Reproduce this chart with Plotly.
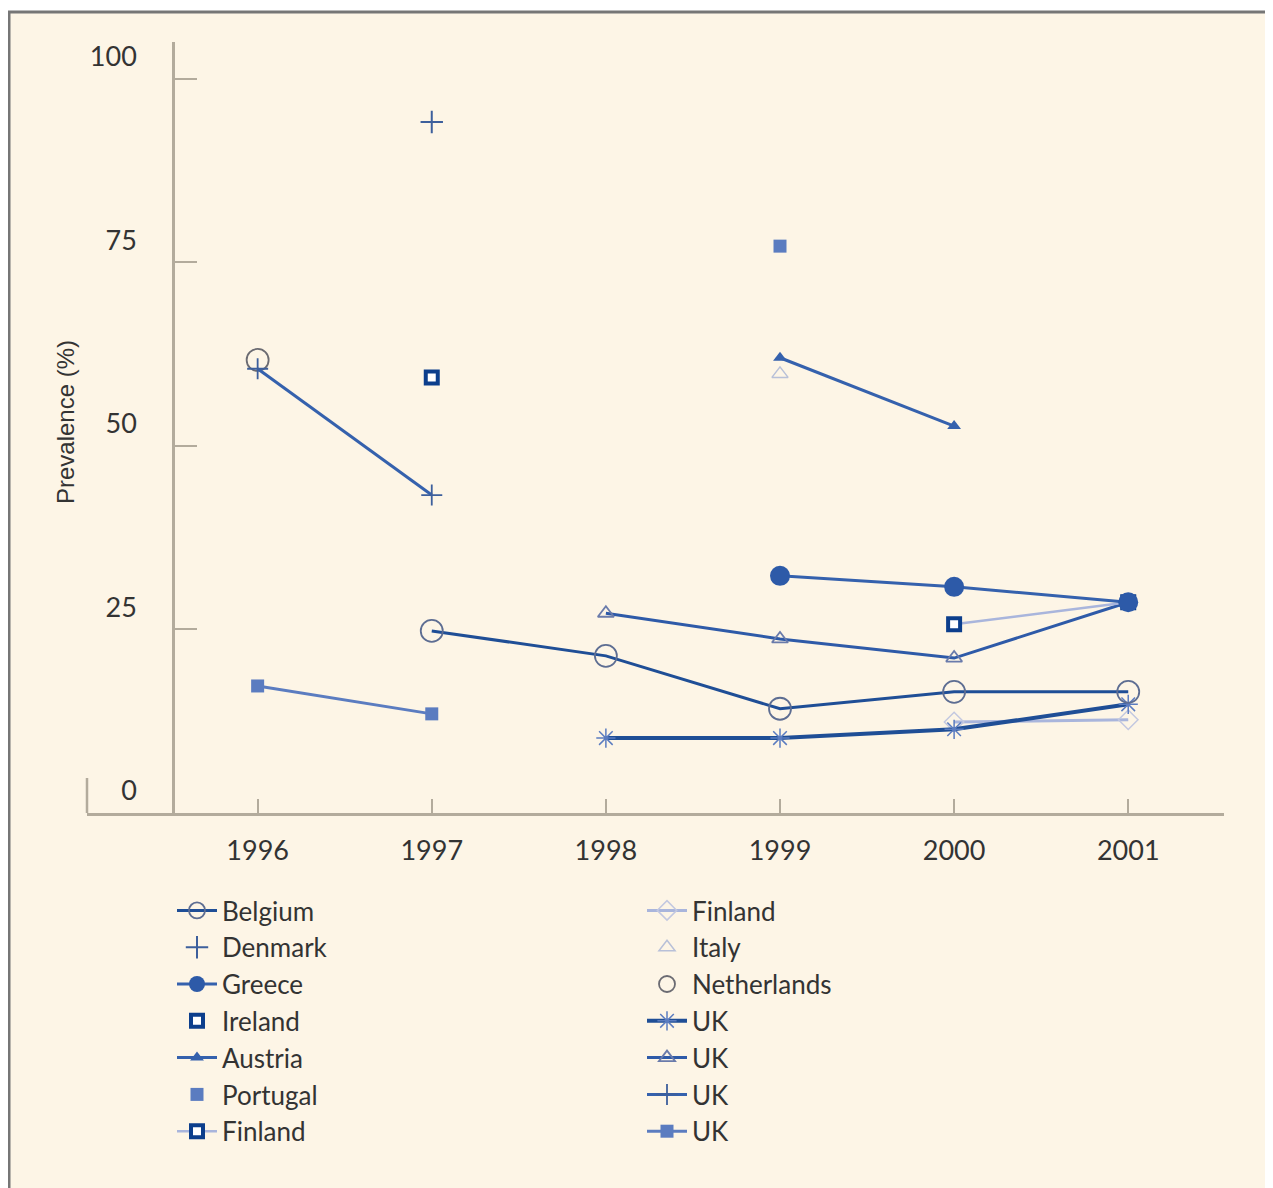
import plotly.graph_objects as go

# ---------------- data ----------------
years = [1996, 1997, 1998, 1999, 2000, 2001]
y_ticks = [0, 25, 50, 75, 100]

belgium_x = [1997, 1998, 1999, 2000, 2001]
belgium_y = [24.8, 21.4, 14.2, 16.5, 16.5]

denmark_x = [1997]
denmark_y = [94.1]

greece_x = [1999, 2000, 2001]
greece_y = [32.3, 30.8, 28.7]

ireland_x = [1997]
ireland_y = [59.3]

austria_x = [1999, 2000]
austria_y = [62.0, 52.7]

portugal_x = [1999]
portugal_y = [77.2]

finland_sq_x = [2000, 2001]
finland_sq_y = [25.7, 28.7]

finland_di_x = [2000, 2001]
finland_di_y = [12.4, 12.7]

italy_x = [1999]
italy_y = [59.8]

netherlands_x = [1996]
netherlands_y = [61.7]

uk_ast_x = [1998, 1999, 2000, 2001]
uk_ast_y = [10.2, 10.2, 11.4, 14.8]

uk_tri_x = [1998, 1999, 2000, 2001]
uk_tri_y = [27.2, 23.7, 21.1, 28.7]

uk_plus_x = [1996, 1997]
uk_plus_y = [60.5, 43.3]

uk_sq_x = [1996, 1997]
uk_sq_y = [17.3, 13.5]

# ---------------- styles ----------------
DARK = "#1f4e96"
MED = "#3561ad"
LIGHT = "#a9b5dc"
SQ = "#5b7cc0"
NAVY = "#0c3e8c"
AXIS = "#b3ab9c"
CREAM = "#fdf5e6"
FONT = "Lato"
TXT = "#333333"

fig = go.Figure()

def add(x, y, name, legend, rank, mode, line=None, marker=None):
    fig.add_trace(go.Scatter(x=x, y=y, name=name, legend=legend, legendrank=rank,
                             mode=mode, line=line, marker=marker, showlegend=True,
                             cliponaxis=False))

# right legend column
add(finland_di_x, finland_di_y, "Finland", "legend2", 8, "lines+markers",
    dict(color=LIGHT, width=3),
    dict(symbol="diamond-open", size=15, color="#c3c8e0", line=dict(width=1.5)))
add(italy_x, italy_y, "Italy", "legend2", 9, "markers", None,
    dict(symbol="triangle-up-open", size=14, color="#b8c0d8", line=dict(width=1.5)))
add(netherlands_x, netherlands_y, "Netherlands", "legend2", 10, "markers", None,
    dict(symbol="circle-open", size=22, color="#6b6b72", line=dict(width=1.8)))
add(uk_ast_x, uk_ast_y, "UK", "legend2", 11, "lines+markers",
    dict(color=DARK, width=4),
    dict(symbol="asterisk-open", size=16, color="#5b7cc0", line=dict(width=1.5)))
add(uk_tri_x, uk_tri_y, "UK", "legend2", 12, "lines+markers",
    dict(color="#2e5aa8", width=3),
    dict(symbol="triangle-up-open", size=14, color="#6a7bab", line=dict(width=1.8)))
add(uk_plus_x, uk_plus_y, "UK", "legend2", 13, "lines+markers",
    dict(color=MED, width=3),
    dict(symbol="cross-thin-open", size=15, color="#3d5f9c", line=dict(width=1.8)))
add(uk_sq_x, uk_sq_y, "UK", "legend2", 14, "lines+markers",
    dict(color=SQ, width=3),
    dict(symbol="square", size=13, color=SQ))

# left legend column
add(belgium_x, belgium_y, "Belgium", "legend", 1, "lines+markers",
    dict(color=DARK, width=3),
    dict(symbol="circle-open", size=22, color="#5d6d92", line=dict(width=1.8)))
add(denmark_x, denmark_y, "Denmark", "legend", 2, "markers", None,
    dict(symbol="cross-thin-open", size=16, color="#3d5f9c", line=dict(width=2)))
add(ireland_x, ireland_y, "Ireland", "legend", 4, "markers", None,
    dict(symbol="square", size=12, color="white", line=dict(color=NAVY, width=4)))
add(austria_x, austria_y, "Austria", "legend", 5, "lines+markers",
    dict(color=MED, width=3),
    dict(symbol="triangle-up", size=12, color=MED))
add(portugal_x, portugal_y, "Portugal", "legend", 6, "markers", None,
    dict(symbol="square", size=13, color=SQ))
add(finland_sq_x, finland_sq_y, "Finland", "legend", 7, "lines+markers",
    dict(color=LIGHT, width=2.5),
    dict(symbol="square", size=12, color="white", line=dict(color=NAVY, width=4)))
add(greece_x, greece_y, "Greece", "legend", 3, "lines+markers",
    dict(color=MED, width=3),
    dict(symbol="circle", size=20, color="#2d5aa8"))

# page has an 8px body margin, so the figure is drawn 8px smaller and offset
OFF = 8
W, H = 1273 - OFF, 1188 - OFF
L, R, T, B = 87 - OFF, 1224 - OFF, 42 - OFF, 813 - OFF
pw, ph = R - L, B - T

def px(xp):
    return (xp - OFF - L) / pw

def py(yp):
    return (B - (yp - OFF)) / ph

fig.update_layout(
    width=W, height=H,
    margin=dict(l=L, r=W - R, t=T, b=H - B),
    paper_bgcolor="white",
    plot_bgcolor="rgba(0,0,0,0)",
    font=dict(family=FONT, color=TXT),
    showlegend=True,
    xaxis=dict(range=[1995.02, 2001.55], tickvals=years,
               ticktext=[str(y) for y in years],
               showgrid=False, zeroline=False, showline=True,
               linecolor=AXIS, linewidth=2.5,
               ticks="inside", ticklen=14, tickwidth=2, tickcolor=AXIS,
               ticklabelstandoff=12,
               tickfont=dict(family=FONT, size=27, color=TXT),
               fixedrange=True),
    yaxis=dict(range=[0, 105], tickvals=y_ticks,
               showgrid=False, zeroline=False, showline=True,
               linecolor=AXIS, linewidth=2.5,
               anchor="free", position=px(173),
               ticks="inside", ticklen=22, tickwidth=2, tickcolor=AXIS,
               ticklabelshift=-22, ticklabelstandoff=30,
               tickfont=dict(family=FONT, size=27, color=TXT),
               fixedrange=True),
    legend=dict(x=px(172), y=py(887), xanchor="left", yanchor="top",
                bgcolor="rgba(0,0,0,0)", tracegroupgap=0,
                font=dict(family=FONT, size=26, color=TXT), itemwidth=40),
    legend2=dict(x=px(642), y=py(887), xanchor="left", yanchor="top",
                 bgcolor="rgba(0,0,0,0)", tracegroupgap=0,
                 font=dict(family=FONT, size=26, color=TXT), itemwidth=40),
    shapes=[
        dict(type="rect", xref="paper", yref="paper",
             x0=px(9), x1=px(1273), y0=py(1195), y1=py(12),
             fillcolor=CREAM, line=dict(color="#767676", width=3), layer="below"),
        dict(type="line", xref="paper", yref="paper",
             x0=0, x1=0, y0=0, y1=py(778),
             line=dict(color=AXIS, width=2.5)),
    ],
    annotations=[
        dict(text="Prevalence (%)", xref="paper", yref="paper",
             x=px(65), y=py(422), textangle=-90, showarrow=False,
             font=dict(family="Liberation Sans", size=24, color=TXT),
             xanchor="center", yanchor="middle"),
    ],
)

fig.write_html("out.html")
